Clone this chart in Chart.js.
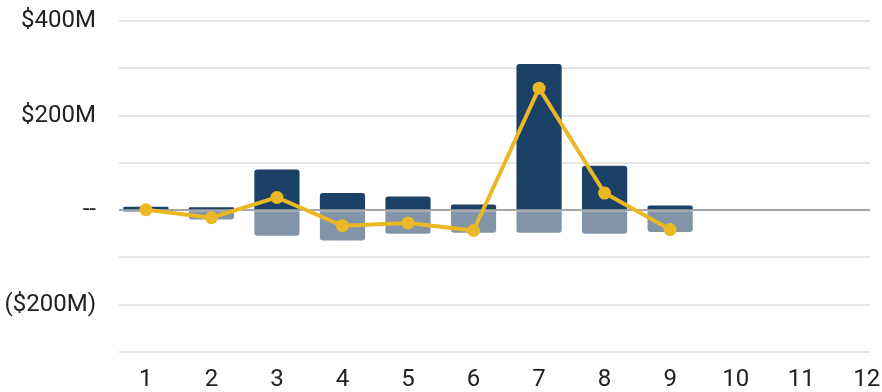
<!DOCTYPE html>
<html>
<head>
<meta charset="utf-8">
<script src="https://cdn.jsdelivr.net/npm/chart.js@4"></script>
<style>
  html, body { margin: 0; padding: 0; background: #fff; }
  #wrap { width: 882px; height: 392px; }
</style>
</head>
<body>
<div id="wrap"><canvas id="chart"></canvas></div>
<script>
// values in $M
const periods = [1, 2, 3, 4, 5, 6, 7, 8, 9, 10, 11, 12];
const gains = [7, 6, 86, 36, 29, 12, 309, 94, 10];
const losses = [-4, -20, -54, -64, -50, -48, -48, -50, -46];
const net = [1, -16, 27, -33, -27, -43, 258, 36, -41];
const yTicks = [-300, -200, -100, 0, 100, 200, 300, 400];

const NAVY = "#1b4266";
const SLATE = "#8294a7";
const GOLD = "#e9b824";

function money(v) {
  if (v === 0) return "--";
  if (v % 200 !== 0) return "";
  return v < 0 ? "($" + Math.abs(v) + "M)" : "$" + v + "M";
}

Chart.defaults.font.family = "Roboto";
Chart.defaults.font.size = 24;
Chart.defaults.color = "#222";

new Chart(document.getElementById("chart"), {
  type: "bar",
  data: {
    labels: periods,
    datasets: [
      {
        type: "line",
        label: "Net",
        data: net,
        stack: "net",
        order: 0,
        borderColor: GOLD,
        backgroundColor: GOLD,
        borderWidth: 4,
        pointRadius: 6.5,
        pointBorderWidth: 0,
        tension: 0,
      },
      {
        label: "Gains",
        data: gains,
        stack: "bars",
        order: 1,
        backgroundColor: NAVY,
        borderRadius: 3,
        categoryPercentage: 1,
        barPercentage: 0.69,
      },
      {
        label: "Losses",
        data: losses,
        stack: "bars",
        order: 1,
        backgroundColor: SLATE,
        borderRadius: 3,
        categoryPercentage: 1,
        barPercentage: 0.69,
      },
    ],
  },
  options: {
    responsive: true,
    maintainAspectRatio: false,
    animation: false,
    layout: { padding: { top: 21, right: 12, left: 0, bottom: 0 } },
    plugins: { legend: { display: false }, tooltip: { enabled: false } },
    scales: {
      x: {
        type: "linear",
        min: 0.59,
        max: 12.05,
        offset: false,
        stacked: true,
        grid: { display: false, drawTicks: false, offset: false },
        border: { display: false },
        afterBuildTicks(scale) {
          scale.ticks = periods.map((p) => ({ value: p }));
        },
        ticks: { padding: 14, maxRotation: 0, autoSkip: false },
        afterFit(scale) {
          scale.height = 40;
          scale.paddingLeft = 0;
          scale.paddingRight = 0;
        },
      },
      y: {
        min: yTicks[0],
        max: yTicks[yTicks.length - 1],
        stacked: true,
        afterBuildTicks(scale) {
          scale.ticks = yTicks.map((v) => ({ value: v }));
        },
        grid: {
          drawTicks: false,
          lineWidth: 2,
          color: (ctx) => (ctx.tick && ctx.tick.value === 0 ? "#a6a6a6" : "#e6e6e6"),
        },
        border: { display: false },
        ticks: { padding: 23, callback: money },
        afterFit(scale) {
          scale.width = 119;
          scale.paddingTop = 0;
          scale.paddingBottom = 0;
        },
      },
    },
  },
});
</script>
</body>
</html>
